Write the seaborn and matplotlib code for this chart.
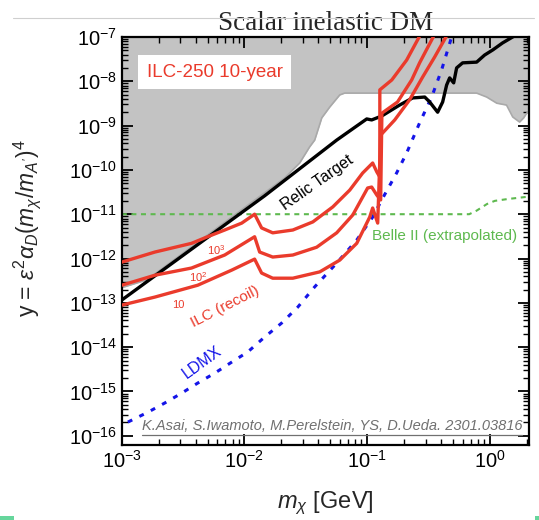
import matplotlib
matplotlib.use("Agg")
import matplotlib.pyplot as plt
from matplotlib.lines import Line2D
from matplotlib.patches import Rectangle
from matplotlib.ticker import FixedLocator, NullFormatter
import seaborn as sns

# ========================== Data ==================================
# Relic target line
relic_x = [1.0e-3, 0.0146, 0.0565, 0.0993, 0.109, 0.132, 0.184, 0.235, 0.295,
           0.324, 0.376, 0.413, 0.445, 0.471, 0.508, 0.537, 0.601, 0.782,
           0.908, 1.06, 1.27, 1.54, 1.9]
relic_y = [1.16e-13, 2.6e-11, 4.7e-10, 1.41e-9, 1.34e-9, 1.65e-9, 2.9e-9,
           4.2e-9, 4.4e-9, 3.4e-9, 2.0e-9, 3.4e-9, 8.2e-9, 1.19e-8, 9.2e-9,
           2.0e-8, 2.6e-8, 2.7e-8, 3.9e-8, 5.1e-8, 7.3e-8, 1.0e-7, 1.35e-7]

# Existing constraints (lower edge of grey region)
excl_x = [1.0e-3, 1.6e-3, 0.0213, 0.0282, 0.034, 0.0374, 0.0427, 0.0495,
          0.0598, 0.0656, 0.782, 0.944, 1.14, 1.37, 1.54, 1.75, 1.89, 2.0, 2.15]
excl_y = [2.2e-13, 3.3e-13, 6.6e-11, 1.43e-10, 3.3e-10, 4.7e-10, 1.49e-9,
          2.6e-9, 4.9e-9, 5.4e-9, 5.4e-9, 4.4e-9, 3.2e-9, 2.9e-9, 1.56e-9,
          1.2e-9, 1.49e-9, 1.9e-9, 2.25e-9]

# ILC recoil reach, three curves
ilc_labels = ["10", "10$^2$", "10$^3$"]
ilc10_x = [1.0e-3, 1.86e-3, 4.16e-3, 7.9e-3, 0.0121, 0.0138, 0.017, 0.0248,
           0.0411, 0.0598, 0.0823, 0.105, 0.111, 0.122, 0.129, 0.168, 0.222,
           0.284, 0.355, 0.471]
ilc10_y = [8.9e-14, 1.35e-13, 2.5e-13, 5.5e-13, 9.7e-13, 4.7e-13, 3.6e-13,
           3.6e-13, 5.0e-13, 9.2e-13, 2.2e-12, 8.6e-12, 1.38e-11, 6.3e-12,
           6.1e-10, 1.34e-9, 3.8e-9, 1.25e-8, 3.5e-8, 1.4e-7]
ilc100_x = [1.0e-3, 1.86e-3, 3.7e-3, 6.9e-3, 0.0121, 0.0133, 0.017, 0.0248,
            0.0388, 0.0565, 0.0764, 0.101, 0.109, 0.120, 0.129, 0.132, 0.177,
            0.231, 0.268, 0.369]
ilc100_y = [2.5e-13, 4.2e-13, 6.1e-13, 1.2e-12, 3.1e-12, 1.4e-12, 1.08e-12,
            1.2e-12, 1.8e-12, 3.8e-12, 9.6e-12, 3.9e-11, 4.1e-11, 2.7e-11,
            2.1e-11, 1.9e-9, 3.4e-9, 1.07e-8, 2.6e-8, 1.4e-7]
ilc1000_x = [1.0e-3, 1.86e-3, 3.7e-3, 5.0e-3, 6.9e-3, 9.5e-3, 0.0121, 0.0138,
             0.017, 0.0248, 0.0361, 0.0525, 0.0722, 0.092, 0.111, 0.120,
             0.127, 0.127, 0.159, 0.210, 0.284]
ilc1000_y = [8.3e-13, 1.4e-12, 2.2e-12, 3.1e-12, 4.4e-12, 6.3e-12, 1.0e-11,
             4.9e-12, 3.8e-12, 4.4e-12, 6.7e-12, 1.46e-11, 3.5e-11, 8.5e-11,
             1.43e-10, 9.0e-11, 6.9e-11, 6.4e-9, 1.07e-8, 3.0e-8, 1.4e-7]

# Belle II (extrapolated)
belle_x = [1.0e-3, 0.68, 0.78, 0.95, 1.1, 1.4, 2.1]
belle_y = [1.0e-11, 1.0e-11, 1.2e-11, 1.7e-11, 2.0e-11, 2.2e-11, 2.5e-11]

# LDMX
ldmx_x = [1.12e-3, 1.63e-3, 2.24e-3, 3.08e-3, 4.16e-3, 5.73e-3, 7.87e-3,
          0.01064, 0.0146, 0.0201, 0.0272, 0.0374, 0.0565, 0.0822, 0.111,
          0.134, 0.174, 0.210, 0.268, 0.336, 0.405, 0.489, 0.52]
ldmx_y = [2.04e-16, 3.4e-16, 5.5e-16, 9.2e-16, 1.55e-15, 2.6e-15, 4.6e-15,
          7.8e-15, 1.69e-14, 3.5e-14, 8.0e-14, 2.3e-13, 7.9e-13, 2.6e-12,
          8.6e-12, 2.3e-11, 8.5e-11, 2.4e-10, 1.15e-9, 4.4e-9, 1.8e-8,
          1.0e-7, 1.6e-7]

# axis ticks (decades shown)
x_decades = [-3, -2, -1, 0]
y_decades = [-16, -15, -14, -13, -12, -11, -10, -9, -8, -7]

# ========================== Style =================================
sns.set_style("ticks")
plt.rcParams["font.family"] = ["Liberation Sans", "DejaVu Sans"]
plt.rcParams["mathtext.fontset"] = "custom"
plt.rcParams["mathtext.rm"] = "Liberation Sans"
plt.rcParams["mathtext.it"] = "Liberation Sans:italic"
plt.rcParams["mathtext.bf"] = "Liberation Sans:bold"

red = "#ea3b2c"
green = "#5eb94f"
blue = "#1414e8"

fig = plt.figure(figsize=(5.39, 5.20), dpi=100)
ax = fig.add_axes([0.226, 0.144, 0.755, 0.785])

# ========================== Plot ==================================
ax.fill_between(excl_x, excl_y, 1e-5, color="#c3c3c3", lw=0, zorder=0)
sns.lineplot(x=excl_x, y=excl_y, sort=False, estimator=None, color="#a9a9a9",
             lw=1.2, ax=ax, zorder=1)

sns.lineplot(x=belle_x, y=belle_y, sort=False, estimator=None, color=green,
             lw=1.5, ax=ax, zorder=2).lines[-1].set_dashes((2.4, 2.2))

sns.lineplot(x=ldmx_x, y=ldmx_y, sort=False, estimator=None, color=blue,
             lw=2.2, ax=ax, zorder=3).lines[-1].set_dashes((1.6, 2.6))

sns.lineplot(x=relic_x, y=relic_y, sort=False, estimator=None, color="black",
             lw=2.4, ax=ax, zorder=4)

for cx, cy in [(ilc10_x, ilc10_y), (ilc100_x, ilc100_y), (ilc1000_x, ilc1000_y)]:
    sns.lineplot(x=cx, y=cy, sort=False, estimator=None, color=red, lw=2.4,
                 ax=ax, zorder=5)

ax.set_xscale("log")
ax.set_yscale("log")
ax.set_xlim(1e-3, 2.08)
ax.set_ylim(10**-16.21, 1e-7)

# ticks only inside the shown range
ax.xaxis.set_major_locator(FixedLocator([10.0**k for k in x_decades]))
ax.xaxis.set_minor_locator(FixedLocator(
    [m * 10.0**k for k in x_decades for m in range(2, 10) if m * 10.0**k < 2.08]))
ax.yaxis.set_major_locator(FixedLocator([10.0**k for k in y_decades]))
ax.yaxis.set_minor_locator(FixedLocator(
    [m * 10.0**k for k in y_decades[:-1] for m in range(2, 10)]))
ax.xaxis.set_minor_formatter(NullFormatter())
ax.yaxis.set_minor_formatter(NullFormatter())

# ========================== Labels ================================
ax.text(0.039, 5.2e-11, "Relic Target", rotation=35, fontsize=11.5,
        ha="center", va="center", color="black", zorder=6)
ax.text(6.9e-3, 8.0e-14, "ILC (recoil)", rotation=27, fontsize=11,
        ha="center", va="center", color=red, zorder=6)
ax.text(4.5e-3, 4.6e-15, "LDMX", rotation=36, fontsize=11.5,
        ha="center", va="center", color=blue, zorder=6)
ax.text(0.43, 3.2e-12, "Belle II (extrapolated)", fontsize=11,
        ha="center", va="center", color=green, zorder=6)
for lab, lx, ly in zip(ilc_labels, [2.86e-3, 4.16e-3, 5.94e-3],
                       [8.9e-14, 3.8e-13, 1.56e-12]):
    ax.text(lx, ly, lab, fontsize=8, ha="center", va="center", color=red,
            zorder=6)

ax.text(0.228, 0.914, "ILC-250 10-year", transform=ax.transAxes,
        fontsize=13.5, color=red, ha="center", va="center", zorder=7,
        bbox=dict(boxstyle="square,pad=0.45", facecolor="white",
                  edgecolor="none"))

ax.text(0.516, 0.046, "K.Asai, S.Iwamoto, M.Perelstein, YS, D.Ueda. 2301.03816",
        transform=ax.transAxes, fontsize=10.5, style="italic", color="#707070",
        ha="center", va="center", zorder=7)
ax.add_line(Line2D([0.05, 0.983], [0.026, 0.026], transform=ax.transAxes,
                   color="#707070", lw=0.9, zorder=7))

ax.set_title("Scalar inelastic DM", fontfamily="Liberation Serif",
             fontsize=19.5, pad=5)
ax.set_xlabel(r"$m_\chi$ [GeV]", fontsize=17, labelpad=13)
ax.set_ylabel(r"y = $\varepsilon^2\alpha_D(m_\chi/m_{A^{\prime}})^4$",
              fontsize=16.5)
ax.yaxis.set_label_coords(-0.194, 0.532)

ax.tick_params(which="both", direction="in", top=True, right=True,
               colors="black", labelsize=14.5)
ax.tick_params(which="major", length=8, width=1.3)
ax.tick_params(which="minor", length=4, width=1.0)
for sp in ax.spines.values():
    sp.set_linewidth(1.6)
    sp.set_color("black")

# slide decorations
fig.add_artist(Line2D([0.025, 0.99], [0.965, 0.965], color="#cfcfcf", lw=0.8))
fig.add_artist(Rectangle((0, 0), 0.026, 0.008, color="#66d69c", lw=0))
fig.add_artist(Rectangle((0.993, 0), 0.007, 0.008, color="#66d69c", lw=0))

fig.savefig("out.png", dpi=100)
